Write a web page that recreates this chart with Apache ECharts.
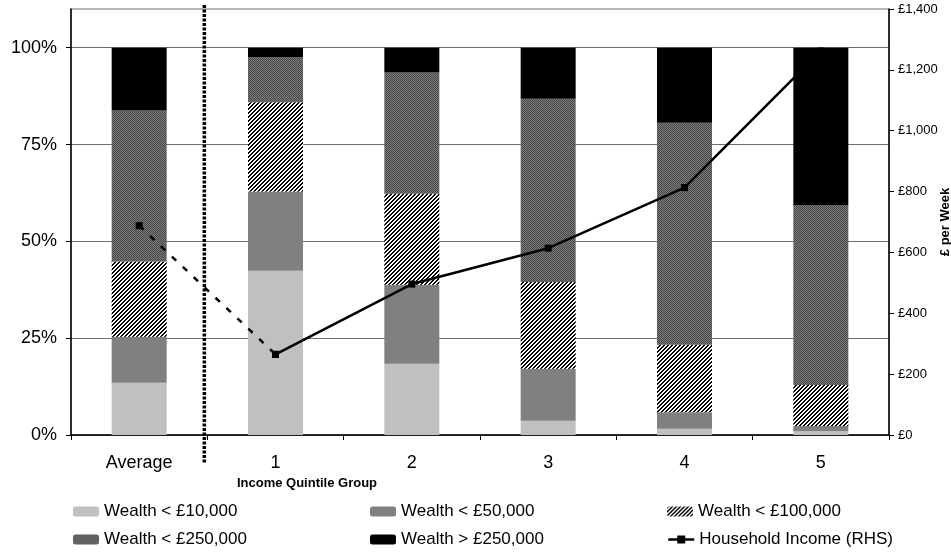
<!DOCTYPE html>
<html>
<head>
<meta charset="utf-8">
<script src="https://cdn.jsdelivr.net/npm/echarts@6/dist/echarts.min.js"></script>
<style>
  html, body { margin: 0; padding: 0; background: #fff; }
  #chart { width: 951px; height: 556px; }
</style>
</head>
<body>
<div id="chart"></div>
<script>
// Share of households in each wealth band (%), by income quintile group
const categories = ['Average', '1', '2', '3', '4', '5'];
const wealthUnder10k  = [13.5, 42.4, 18.4,  3.7,  1.6,  1.0];
const wealthUnder50k  = [11.9, 20.5, 20.4, 13.4,  4.3,  1.3];
const wealthUnder100k = [19.4, 23.0, 23.5, 22.4, 17.4, 10.6];
const wealthUnder250k = [39.0, 11.7, 31.3, 47.3, 57.3, 46.5];
const wealthOver250k  = [16.2,  2.4,  6.4, 13.2, 19.4, 40.6];

// Weekly household income (£), right-hand axis
const incomeQuintiles = [null, 265, 496, 614, 813, 1262];
const incomeAverageLink = [688, 265, null, null, null, null];

const leftTicks = [0, 25, 50, 75, 100];

const seriesNames = [
  'Wealth < £10,000',
  'Wealth < £50,000',
  'Wealth < £100,000',
  'Wealth < £250,000',
  'Wealth > £250,000',
  'Household Income (RHS)'
];

const FONT = 'Liberation Sans, Arial, sans-serif';

// Small repeating tiles used as fill patterns
function makeTile(size, paint) {
  const c = document.createElement('canvas');
  c.width = size; c.height = size;
  const ctx = c.getContext('2d');
  for (let y = 0; y < size; y++) {
    for (let x = 0; x < size; x++) {
      ctx.fillStyle = paint(x, y);
      ctx.fillRect(x, y, 1, 1);
    }
  }
  return { image: c, repeat: 'repeat' };
}
const diagonalHatch = makeTile(4, (x, y) => ((x + y) % 4 < 2 ? '#000000' : '#ffffff'));
const fineDots = makeTile(2, (x, y) => ((x + y) % 2 === 0 ? '#474747' : '#7c7c7c'));

const bandColors = ['#c0c0c0', '#808080', diagonalHatch, fineDots, '#000000'];
const bandData = [wealthUnder10k, wealthUnder50k, wealthUnder100k, wealthUnder250k, wealthOver250k];

const chart = echarts.init(document.getElementById('chart'), null, { renderer: 'canvas' });

const barSeries = bandData.map((d, i) => ({
  name: seriesNames[i],
  type: 'bar',
  stack: 'wealth',
  yAxisIndex: 0,
  barWidth: 55,
  data: d,
  itemStyle: { color: bandColors[i] },
  emphasis: { disabled: true }
}));

const lineStyleBase = { color: '#000', width: 2.5 };

const legendSlots = [
  { name: seriesNames[0], left: 73,  top: 503 },
  { name: seriesNames[1], left: 370, top: 503 },
  { name: seriesNames[2], left: 667, top: 503 },
  { name: seriesNames[3], left: 73,  top: 531 },
  { name: seriesNames[4], left: 370, top: 531 },
  { name: seriesNames[5], left: 667, top: 531 }
];

chart.setOption({
  animation: false,
  backgroundColor: '#ffffff',
  grid: {
    left: 71, right: 62, top: 9, bottom: 121,
    containLabel: false,
    outerBoundsMode: 'none',
    show: true,
    borderColor: '#6e6e6e',
    borderWidth: 1,
    backgroundColor: 'transparent'
  },
  legend: legendSlots.map(s => ({
    data: s.name === seriesNames[5]
      ? [{ name: s.name, lineStyle: { type: 'solid', width: 2.5, color: '#000' }, itemStyle: { color: '#000' } }]
      : [s.name],
    left: s.left,
    top: s.top,
    padding: 0,
    itemWidth: 26,
    itemHeight: 10,
    selectedMode: false,
    textStyle: { fontFamily: FONT, fontSize: 17, color: '#000' }
  })),
  xAxis: {
    type: 'category',
    data: categories,
    boundaryGap: true,
    axisLine: { lineStyle: { color: '#000', width: 1.5 } },
    axisTick: { show: true, length: 5, lineStyle: { color: '#000', width: 1 } },
    axisLabel: { fontFamily: FONT, fontSize: 18, color: '#000', margin: 19 },
    splitLine: { show: false }
  },
  yAxis: [
    {
      type: 'value',
      min: 0,
      max: 110,
      interval: 25,
      position: 'left',
      axisLine: { show: true, lineStyle: { color: '#000', width: 1.5 } },
      axisTick: { show: true, length: 5, lineStyle: { color: '#000' }, customValues: leftTicks },
      axisLabel: {
        fontFamily: FONT, fontSize: 18, color: '#000', margin: 14,
        customValues: leftTicks,
        formatter: v => (v > 100 ? '' : v + '%')
      },
      splitLine: { show: true, lineStyle: { color: '#6e6e6e', width: 1 } }
    },
    {
      type: 'value',
      min: 0,
      max: 1400,
      interval: 200,
      position: 'right',
      axisLine: { show: true, lineStyle: { color: '#000', width: 1.5 } },
      axisTick: { show: true, length: 5, lineStyle: { color: '#000' } },
      axisLabel: {
        fontFamily: FONT, fontSize: 13, color: '#000', margin: 9,
        formatter: v => '£' + v.toLocaleString('en-GB')
      },
      splitLine: { show: false }
    }
  ],
  series: barSeries.concat([
    {
      name: seriesNames[5],
      type: 'line',
      yAxisIndex: 1,
      data: incomeQuintiles,
      symbol: 'rect',
      symbolSize: 7,
      connectNulls: false,
      lineStyle: Object.assign({ type: 'solid' }, lineStyleBase),
      itemStyle: { color: '#000' },
      emphasis: { disabled: true },
      z: 5
    },
    {
      name: seriesNames[5],
      type: 'line',
      yAxisIndex: 1,
      data: incomeAverageLink,
      symbol: 'rect',
      symbolSize: 7,
      connectNulls: false,
      lineStyle: Object.assign({ type: [6, 9] }, lineStyleBase),
      itemStyle: { color: '#000' },
      emphasis: { disabled: true },
      z: 5
    }
  ])
});

// Divider between the overall average and the quintile groups
const xAvg = chart.convertToPixel({ xAxisIndex: 0 }, categories[0]);
const xFirst = chart.convertToPixel({ xAxisIndex: 0 }, categories[1]);
const dividerX = (xAvg + xFirst) / 2 - 3;

// Vertical centre of the plotting area, for the right-hand axis title
const yTop = chart.convertToPixel({ yAxisIndex: 1 }, 1400);
const yBottom = chart.convertToPixel({ yAxisIndex: 1 }, 0);

chart.setOption({
  graphic: [
    {
      type: 'line',
      z: 10,
      shape: { x1: dividerX, y1: 5, x2: dividerX, y2: 463 },
      style: { stroke: '#000', lineWidth: 3.5, lineDash: [3, 1.5] }
    },
    {
      type: 'text',
      z: 10,
      x: 307,
      y: 483,
      style: {
        text: 'Income Quintile Group',
        fill: '#000',
        font: 'bold 13px ' + FONT,
        align: 'center',
        verticalAlign: 'middle'
      }
    },
    {
      type: 'text',
      z: 10,
      x: 945,
      y: (yTop + yBottom) / 2,
      rotation: Math.PI / 2,
      style: {
        text: '£ per Week',
        fill: '#000',
        font: 'bold 13px ' + FONT,
        align: 'center',
        verticalAlign: 'middle'
      }
    }
  ]
});
</script>
</body>
</html>
